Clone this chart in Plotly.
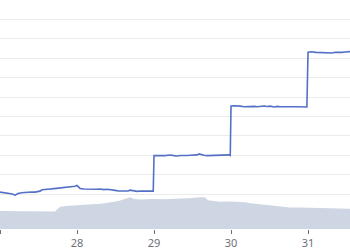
import plotly.graph_objects as go

# Line series (x in days of month, y in axis units)
line_x = [27.000, 27.030, 27.065, 27.100, 27.130, 27.160, 27.195, 27.215, 27.235, 27.280,
          27.325, 27.370, 27.410, 27.455, 27.490, 27.520, 27.545, 27.590, 27.650, 27.700,
          27.740, 27.780, 27.830, 27.870, 27.910, 27.950, 27.975, 28.000, 28.020, 28.040,
          28.090, 28.130, 28.170, 28.220, 28.260, 28.300, 28.350, 28.390, 28.430, 28.470,
          28.495, 28.540, 28.580, 28.625, 28.660, 28.690, 28.730, 28.780, 28.820, 28.870,
          28.920, 28.955, 28.985, 28.990,
          29.000, 29.040, 29.090, 29.140, 29.180, 29.210, 29.260, 29.300, 29.340, 29.390,
          29.430, 29.470, 29.520, 29.560, 29.585, 29.610, 29.650, 29.690, 29.730, 29.780,
          29.820, 29.860, 29.900, 29.940, 29.975, 29.990,
          30.000, 30.050, 30.090, 30.120, 30.170, 30.210, 30.250, 30.300, 30.340, 30.380,
          30.430, 30.470, 30.510, 30.560, 30.600, 30.640, 30.690, 30.730, 30.770, 30.820,
          30.860, 30.900, 30.940, 30.975, 30.985,
          31.000, 31.050, 31.100, 31.150, 31.190, 31.220, 31.270, 31.310, 31.350, 31.400,
          31.440, 31.480, 31.520, 31.545]
line_y = [2.10, 2.08, 2.09, 2.06, 2.05, 2.00, 1.94, 1.98, 2.03, 2.07,
          2.09, 2.08, 2.11, 2.10, 2.12, 2.15, 2.22, 2.25, 2.26, 2.28,
          2.30, 2.31, 2.33, 2.34, 2.35, 2.37, 2.40, 2.44, 2.38, 2.29,
          2.26, 2.25, 2.27, 2.24, 2.25, 2.26, 2.23, 2.25, 2.23, 2.24,
          2.19, 2.16, 2.15, 2.14, 2.16, 2.20, 2.17, 2.14, 2.16, 2.15,
          2.15, 2.14, 2.15, 2.15,
          3.99, 3.98, 4.00, 3.98, 4.00, 4.01, 3.98, 3.96, 3.99, 3.97,
          3.99, 4.00, 3.99, 4.02, 4.07, 4.03, 4.00, 3.98, 3.99, 3.98,
          4.00, 4.00, 4.03, 4.01, 4.02, 3.99,
          6.54, 6.55, 6.52, 6.53, 6.50, 6.51, 6.49, 6.52, 6.50, 6.52,
          6.54, 6.51, 6.53, 6.49, 6.52, 6.50, 6.51, 6.52, 6.49, 6.50,
          6.50, 6.49, 6.51, 6.50, 6.49,
          9.31, 9.33, 9.30, 9.29, 9.31, 9.28, 9.30, 9.27, 9.31, 9.29,
          9.30, 9.32, 9.33, 9.34]

# Area series
area_x = [27.000, 27.130, 27.260, 27.390, 27.520, 27.650, 27.714, 27.740, 27.780, 27.850,
          27.950, 28.040, 28.150, 28.235, 28.300, 28.360, 28.430, 28.500, 28.560, 28.630,
          28.690, 28.740, 28.820, 28.990, 29.130, 29.270, 29.400, 29.465, 29.540, 29.600,
          29.660, 29.700, 29.780, 29.860, 29.990, 30.120, 30.190, 30.250, 30.340, 30.440,
          30.540, 30.640, 30.700, 30.770, 30.900, 31.030, 31.160, 31.290, 31.420, 31.545]
area_y = [1.13, 1.12, 1.11, 1.10, 1.10, 1.10, 1.10, 1.20, 1.35, 1.39,
          1.41, 1.42, 1.44, 1.46, 1.50, 1.53, 1.56, 1.62, 1.67, 1.76,
          1.84, 1.74, 1.72, 1.74, 1.73, 1.76, 1.76, 1.78, 1.82, 1.84,
          1.83, 1.68, 1.64, 1.61, 1.62, 1.61, 1.58, 1.53, 1.49, 1.45,
          1.40, 1.36, 1.34, 1.31, 1.31, 1.30, 1.29, 1.27, 1.25, 1.24]

tick_vals = [27, 28, 29, 30, 31]
tick_text = ["27", "28", "29", "30", "31"]

fig = go.Figure()
fig.add_trace(go.Scatter(
    x=area_x, y=area_y, mode="lines", fill="tozeroy",
    line=dict(width=0, color="rgba(0,0,0,0)"),
    fillcolor="#cfd6e3", hoverinfo="skip"))
fig.add_trace(go.Scatter(
    x=line_x, y=line_y, mode="lines",
    line=dict(color="#5470c6", width=1.6)))

fig.update_layout(
    width=350, height=250,
    margin=dict(l=0, r=0, t=0, b=19),
    paper_bgcolor="white", plot_bgcolor="white",
    showlegend=False,
    font=dict(family="Noto Sans, sans-serif", size=11, color="#6e7079"),
    xaxis=dict(range=[27, 31.545], tickvals=tick_vals, ticktext=tick_text,
               showgrid=False, zeroline=False, showline=False,
               ticks="outside", ticklen=4, tickcolor="#6e7079", tickwidth=1),
    yaxis=dict(range=[0.2, 12.0], tick0=0, dtick=1, showticklabels=False,
               showgrid=True, gridcolor="#ebebeb", gridwidth=1,
               zeroline=False, showline=False, ticks=""),
)
fig.write_html("out.html")
